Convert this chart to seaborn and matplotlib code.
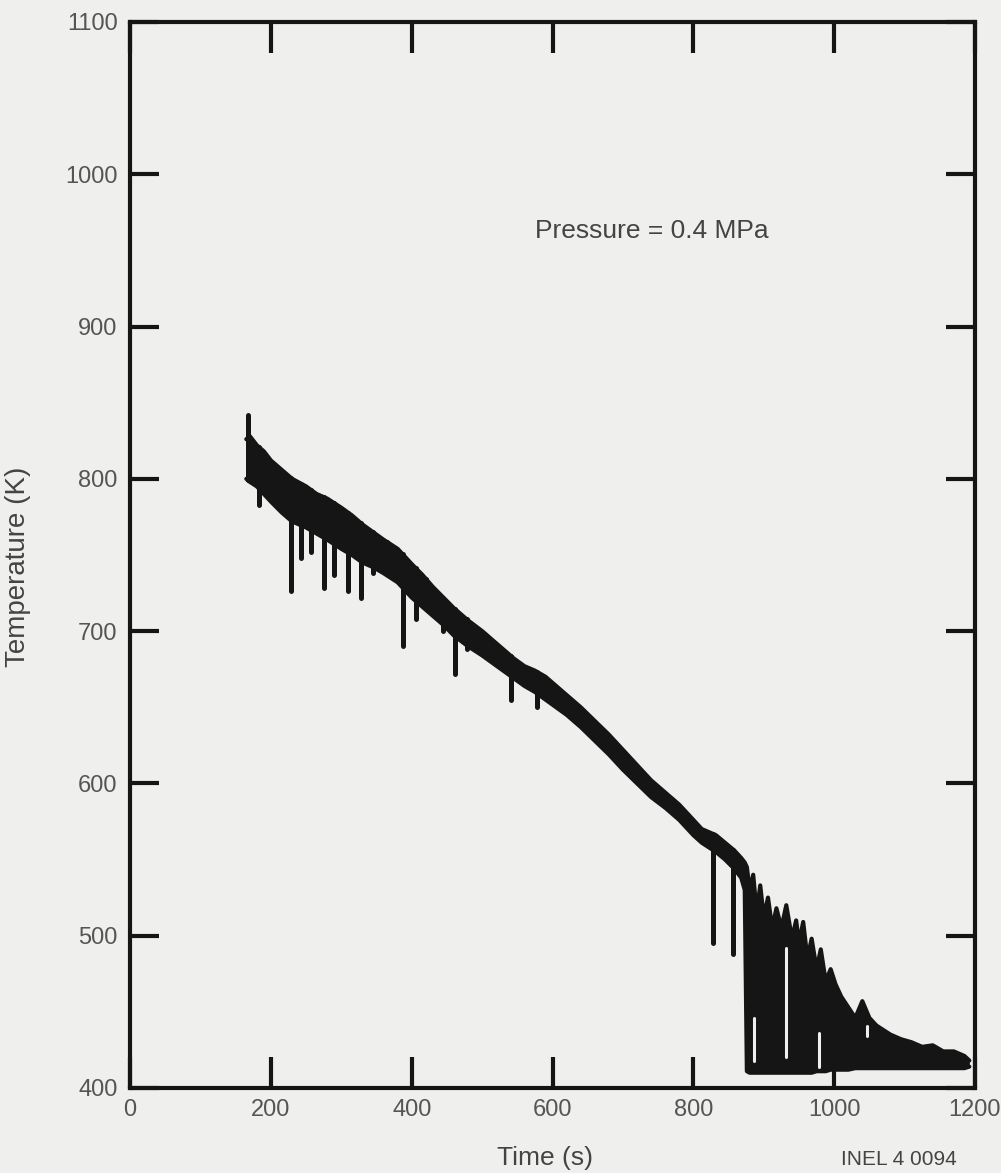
import numpy as np
import pandas as pd
import matplotlib
matplotlib.use("Agg")
import matplotlib.pyplot as plt
import seaborn as sns

# ---------------- data ----------------
band_t = [165, 170, 180, 190, 200, 215, 230, 250, 265, 280, 300, 315, 330, 345, 360,
          380, 400, 415, 430, 445, 460, 480, 500, 515, 530, 545, 560, 575, 590, 605,
          620, 640, 660, 680, 700, 720, 740, 760, 780, 800, 812, 822, 832, 845, 858,
          868, 873, 876, 880, 885, 890, 895, 900, 906, 912, 918, 925, 932, 940, 946,
          950, 956, 962, 968, 975, 981, 988, 995, 1002, 1010, 1020, 1030, 1040, 1050,
          1060, 1070, 1080, 1095, 1110, 1125, 1140, 1155, 1170, 1185, 1192]
band_hi = [826, 828, 822, 818, 812, 806, 800, 795, 790, 787, 781, 776, 770, 765, 760,
           754, 744, 737, 729, 722, 715, 707, 700, 694, 688, 682, 677, 674, 670, 664,
           658, 650, 641, 632, 622, 612, 602, 594, 586, 576, 570, 568, 566, 561, 556,
           551, 548, 545, 530, 540, 515, 533, 512, 525, 505, 518, 505, 520, 498, 510,
           495, 509, 485, 498, 478, 491, 470, 478, 468, 460, 453, 446, 457, 446,
           441, 438, 435, 432, 430, 427, 428, 424, 424, 421, 418]
band_lo = [800, 798, 795, 790, 785, 778, 772, 768, 764, 760, 754, 750, 745, 742, 738,
           732, 722, 716, 710, 704, 697, 690, 684, 679, 674, 669, 664, 660, 655, 650,
           645, 637, 628, 619, 609, 600, 591, 584, 576, 566, 561, 558, 555, 550, 544,
           538, 530, 411, 410, 410, 410, 410, 410, 410, 410, 410, 410, 410, 410, 410,
           410, 410, 410, 410, 411, 411, 411, 412, 412, 412, 412, 413, 413, 413,
           413, 413, 413, 413, 413, 413, 413, 413, 413, 413, 414]

# downward spikes of the trace
spike_t = [183, 229, 243, 257, 276, 290, 310, 328, 345, 365, 387, 406, 420, 445,
           461, 478, 541, 578, 828, 857]
spike_lo = [783, 726, 748, 752, 728, 737, 726, 722, 738, 742, 690, 708, 716, 700,
            672, 688, 655, 650, 495, 488]

# upward spike at the start
peak_t = [167]
peak_hi = [842]

# light slivers inside the dense band
gap_t = [886, 931, 979, 1046]
gap_lo = [418, 420, 414, 434]
gap_hi = [446, 492, 436, 441]

x_ticks = [0, 200, 400, 600, 800, 1000, 1200]
y_ticks = [400, 500, 600, 700, 800, 900, 1000, 1100]

annotation = "Pressure = 0.4 MPa"
x_label = "Time (s)"
y_label = "Temperature (K)"
code_label = "INEL 4 0094"

# ---------------- style ----------------
sns.set_style("white")
plt.rcParams["font.family"] = ["Liberation Sans", "DejaVu Sans"]
bg = "#efefed"
ink = "#151515"
grey = "#555555"

fig = plt.figure(figsize=(10.01, 11.73), dpi=100, facecolor=bg)
ax = fig.add_axes([0.130, 0.0725, 0.844, 0.9088])
ax.set_facecolor(bg)

band = pd.DataFrame({"t": band_t, "hi": band_hi, "lo": band_lo})

ax.fill_between(band["t"], band["lo"], band["hi"], color=ink, lw=0, zorder=2)
sns.lineplot(data=band, x="t", y="hi", color=ink, lw=3, ax=ax, zorder=3)
sns.lineplot(data=band, x="t", y="lo", color=ink, lw=3, ax=ax, zorder=3)

top_at_spike = np.interp(spike_t, band_t, band_hi)
sp = ax.vlines(spike_t, spike_lo, top_at_spike, color=ink, lw=3.6, zorder=3)
sp.set_capstyle("round")
pk = ax.vlines(peak_t, np.interp(peak_t, band_t, band_lo), peak_hi, color=ink, lw=3.6, zorder=3)
pk.set_capstyle("round")
gp = ax.vlines(gap_t, gap_lo, gap_hi, color=bg, lw=2.2, zorder=4)
gp.set_capstyle("round")

ax.set_xlim(0, 1200)
ax.set_ylim(400, 1100)
ax.set_xticks(x_ticks)
ax.set_yticks(y_ticks)
ax.set_xticklabels([str(v) for v in x_ticks])
ax.set_yticklabels([str(v) for v in y_ticks])

for s in ax.spines.values():
    s.set_visible(True)
    s.set_linewidth(3)
    s.set_color(ink)

ax.tick_params(axis="x", direction="in", length=22, width=3, color=ink,
               top=True, bottom=True, labelsize=17, labelcolor=grey, pad=8)
ax.tick_params(axis="y", direction="in", length=21, width=3, color=ink,
               left=True, right=True, labelsize=17, labelcolor=grey, pad=9)

ax.set_xlabel(x_label, fontsize=19, color="#444444")
ax.set_ylabel(y_label, fontsize=20, color="#444444")
ax.xaxis.set_label_coords(0.491, -0.054)
ax.yaxis.set_label_coords(-0.117, 0.489)

ax.text(575, 963, annotation, fontsize=19, color="#444444", ha="left", va="center")
fig.text(0.898, 0.0115, code_label, fontsize=15, color="#444444", ha="center", va="center")

fig.savefig("out.png", dpi=100, facecolor=bg)
